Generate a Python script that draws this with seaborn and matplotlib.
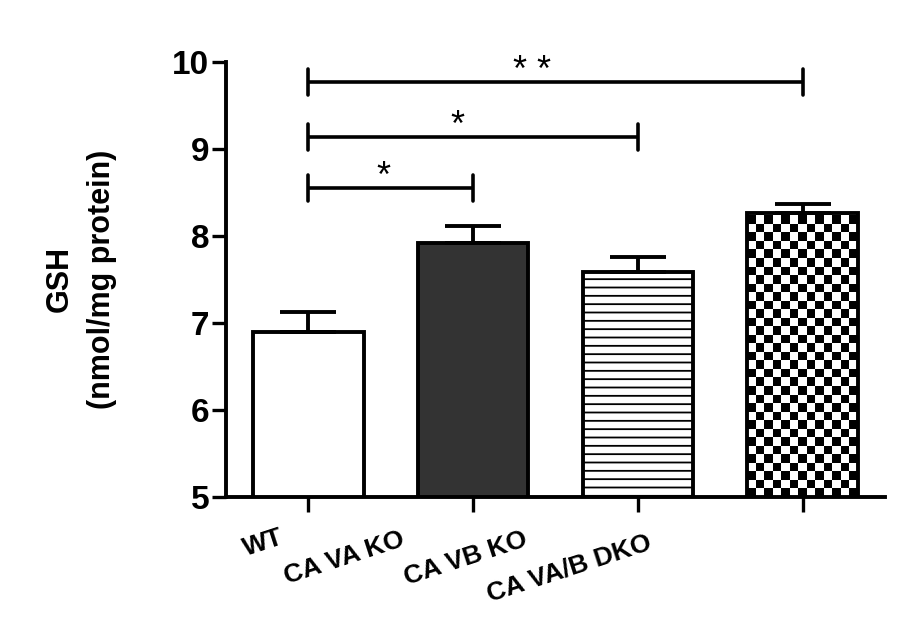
import matplotlib
matplotlib.use("Agg")
import matplotlib.pyplot as plt
import matplotlib.transforms as mtransforms
import numpy as np
import seaborn as sns

groups = ["WT", "CA VA KO", "CA VB KO", "CA VA/B DKO"]
gsh_mean = [6.90, 7.92, 7.59, 8.26]
gsh_sem = [0.23, 0.20, 0.17, 0.11]

# significance brackets: (left group, right group, bracket height, label)
comparisons = [(0, 1, 8.55, "*"), (0, 2, 9.14, "*"), (0, 3, 9.77, "* *")]
star_shift = [-0.044, -0.094, -0.144]

bar_colors = ["white", "#333333", "white", "white"]
bar_hatches = [None, None, "--", None]

sns.set_style("white")
plt.rcParams["font.family"] = ["Liberation Sans", "DejaVu Sans"]
plt.rcParams["hatch.linewidth"] = 1.3
for key in ("text.color", "axes.labelcolor", "xtick.color", "ytick.color"):
    plt.rcParams[key] = "black"

fig = plt.figure(figsize=(9.04, 6.33), dpi=100)
ax = fig.add_axes([0.25, 0.215, 0.729, 0.687])

sns.barplot(x=groups, y=gsh_mean, hue=groups, palette=bar_colors, legend=False,
            edgecolor="black", linewidth=2.8, width=0.67, saturation=1, ax=ax)

for bar, hatch in zip(ax.patches, bar_hatches):
    if hatch:
        bar.set_hatch(hatch)

# checkerboard fill for the double knockout
dko = ax.patches[3]
x0, w = dko.get_x(), dko.get_width()
ny, nx = 36, 13
checker = (np.add.outer(np.arange(ny), np.arange(nx)) % 2).astype(float)
img = ax.imshow(checker, cmap="gray", extent=(x0, x0 + w, 5, 5 + ny * 0.098),
                origin="lower", aspect="auto", interpolation="nearest", zorder=dko.get_zorder())
img.set_clip_path(dko)
dko.set_zorder(img.get_zorder() + 0.1)
dko.set_facecolor("none")

ax.errorbar(range(len(groups)), gsh_mean, yerr=[np.zeros(len(groups)), gsh_sem],
            fmt="none", ecolor="black", elinewidth=2.8, capsize=20, capthick=2.8, zorder=1)

for (left, right, y, label), shift in zip(comparisons, star_shift):
    ax.plot([left, right], [y, y], color="black", lw=2.6, solid_capstyle="butt")
    for xe in (left, right):
        ax.plot([xe, xe], [y - 0.15, y + 0.15], color="black", lw=2.6, solid_capstyle="round")
    ax.text((left + right) / 2 + shift, y + 0.01, label,
            ha="center", va="baseline", fontsize=26, clip_on=False)

ax.set_xlim(-0.5, 3.5)
ax.set_ylim(5, 10)
ax.set_yticks([5, 6, 7, 8, 9, 10])
sns.despine(ax=ax)
for side in ("left", "bottom"):
    ax.spines[side].set_linewidth(2.8)
    ax.spines[side].set_color("black")

ax.tick_params(axis="y", length=10, width=2.4, labelsize=24, pad=2, left=True)
ax.tick_params(axis="x", length=11, width=2.4, labelsize=19, pad=4, bottom=True)
for lab in ax.get_yticklabels():
    lab.set_fontweight("bold")

ax.set_xticks(range(len(groups)))
ax.set_xticklabels(groups, rotation=18, ha="right", va="top", rotation_mode="anchor",
                   fontweight="bold")
label_shift_px = [(-29, -8), (-73, -10), (-115, -10), (-156, -13)]
for lab, (dx, dy) in zip(ax.get_xticklabels(), label_shift_px):
    lab.set_transform(lab.get_transform() +
                      mtransforms.ScaledTranslation(dx / 100, dy / 100, fig.dpi_scale_trans))

ax.set_ylabel("GSH\n(nmol/mg protein)", fontsize=22, fontweight="bold", linespacing=1.55)
ax.yaxis.set_label_coords(-0.165, 0.5)

fig.savefig("out.png", dpi=100)
